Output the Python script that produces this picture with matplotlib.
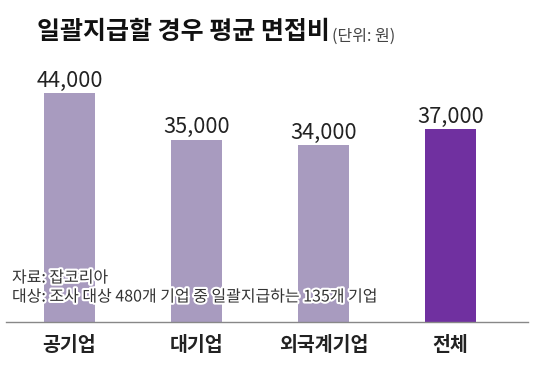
import matplotlib
matplotlib.use('Agg')
import matplotlib.pyplot as plt
import matplotlib.patheffects as pe

plt.rcParams['font.family'] = ['Noto Sans CJK KR', 'DejaVu Sans']

categories = ['공기업', '대기업', '외국계기업', '전체']
values = [44000, 35000, 34000, 37000]
value_labels = ['44,000', '35,000', '34,000', '37,000']
bar_colors = ['#a89bbf', '#a89bbf', '#a89bbf', '#7030a0']

fig = plt.figure(figsize=(5.34, 3.65), dpi=100)
# axes in pixel terms: x 6..528, y baseline 322 from top
ax = fig.add_axes([6 / 534, (365 - 322) / 365, 522 / 534, 282 / 365])

xs = range(len(categories))
ax.bar(xs, values, width=0.4, color=bar_colors, zorder=2)
ax.set_xlim(-0.5, 3.61)
ax.set_ylim(0, 54200)

for x, v, lab in zip(xs, values, value_labels):
    ax.text(x, v + 300, lab, ha='center', va='bottom', fontsize=15.7,
            color='#222222')

for s in ['top', 'right', 'left']:
    ax.spines[s].set_visible(False)
ax.spines['bottom'].set_color('#888888')
ax.spines['bottom'].set_linewidth(1)
ax.set_yticks([])
ax.set_xticks(list(xs))
ax.set_xticklabels(categories, fontsize=14, fontweight='bold', color='#222222')
ax.tick_params(axis='x', length=0, pad=10)

title = fig.text(37 / 534, 1 - 32 / 365, '일괄지급할 경우 평균 면접비', fontsize=18,
                 fontweight='bold', ha='left', va='center', color='#111111')
fig.canvas.draw()
bb = title.get_window_extent()
fig.text(bb.x1 / 534 + 2 / 534, 1 - 36 / 365, '(단위: 원)', fontsize=11.5,
         ha='left', va='center', color='#444444')

outline = [pe.withStroke(linewidth=3, foreground='white')]
fig.text(12 / 534, 1 - 278 / 365, '자료: 잡코리아', fontsize=11.5,
         ha='left', va='center', color='#333333', path_effects=outline)
fig.text(12 / 534, 1 - 297 / 365, '대상: 조사 대상 480개 기업 중 일괄지급하는 135개 기업',
         fontsize=11.5, ha='left', va='center', color='#333333',
         path_effects=outline)

fig.savefig('out.png', dpi=100)
